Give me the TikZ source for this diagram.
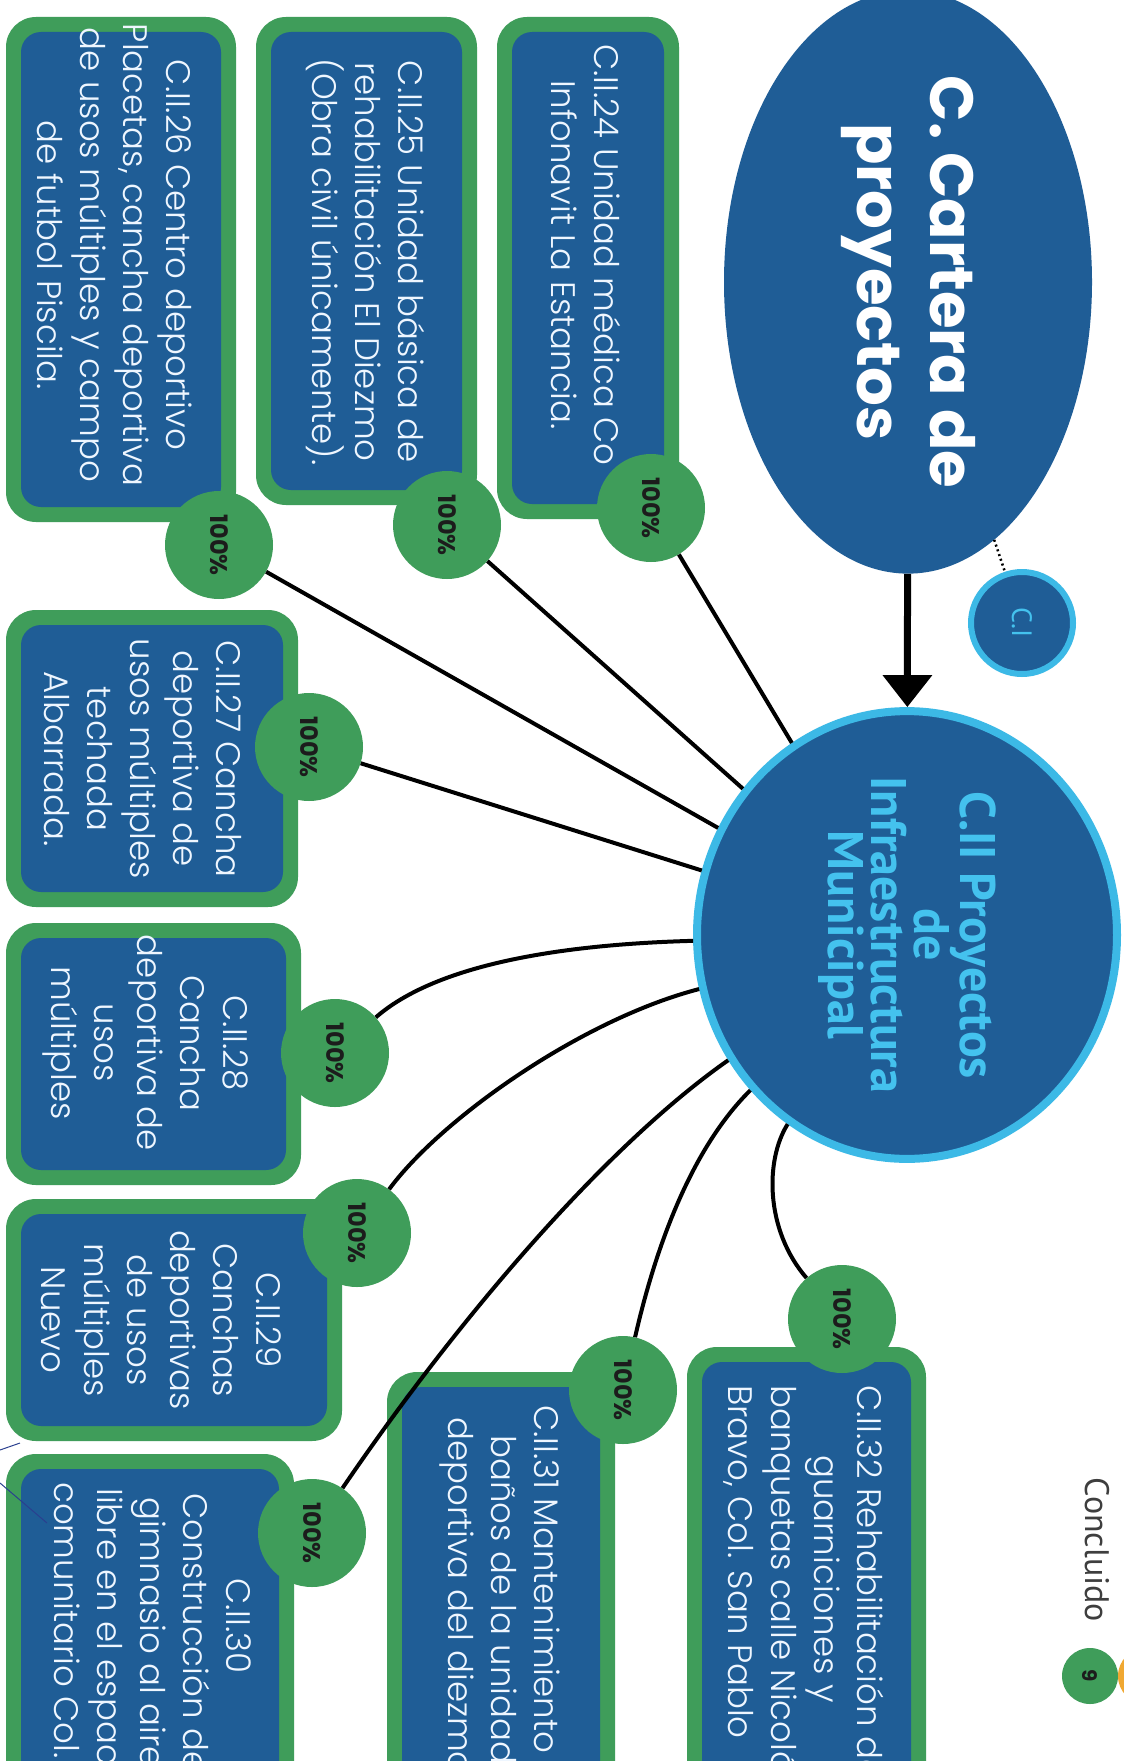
\documentclass[tikz,border=0pt]{standalone}
\usepackage{fontspec}
\setmainfont{Poppins}[UprightFont={* Light},BoldFont={* Bold}]
\newfontfamily\ptfont{PT Sans}
\usetikzlibrary{arrows.meta,shapes.geometric}
\definecolor{cblue}{HTML}{1F5D96}
\definecolor{cgreen}{HTML}{3F9D5A}
\definecolor{ccyan}{HTML}{3CB9E6}
\definecolor{ctitle}{HTML}{44C2EE}
\definecolor{ctext}{HTML}{EEF6FF}
\definecolor{cdark}{HTML}{1C1C1C}
\definecolor{corange}{HTML}{F0A832}
\definecolor{cnavy}{HTML}{2A3F8F}
\newcommand\projbox[4]{%
  \fill[outerbox] (#1,#2) rectangle (#3,#4);
  \fill[innerbox] ({#1+15},{#2+15}) rectangle ({#3-15},{#4-15});}
\begin{document}
\begin{tikzpicture}[x=1pt,y=-1pt,
  outerbox/.style={fill=cgreen,rounded corners=30pt},
  innerbox/.style={fill=cblue,rounded corners=20pt},
  boxtext/.style={rotate=-90,text=ctext,align=center,inner sep=0pt,font=\fontsize{34}{43}\selectfont},
  boxtextl/.style={boxtext,align=left,anchor=north west},
  badge/.style={circle,fill=cgreen,minimum size=108pt,inner sep=0pt,rotate=-90,text=cdark,font=\bfseries\fontsize{24}{26}\selectfont},
  link/.style={line width=4pt,black},
]
\useasboundingbox (0,0) rectangle (1124,1761);
\fill[white] (0,0) rectangle (1124,1761);
\clip (0,0) rectangle (1124,1761);

% project boxes
\projbox{497}{17}{679}{519}
\projbox{256}{17}{477}{505}
\projbox{6}{17}{236}{522}
\projbox{6}{610}{298}{907}
\projbox{6}{923}{301}{1185}
\projbox{6}{1199}{342}{1441}
\projbox{6}{1454}{294}{1820}
\projbox{387}{1372}{615}{1820}
\projbox{687}{1347}{926}{1820}

% box texts
\node[boxtext] (t24) at (586,255) {C.II.24 Unidad médica Co\\Infonavit La Estancia.};
\node[boxtext] (t25) at (365,262) {C.II.25 Unidad básica de\\rehabilitación El Diezmo\\(Obra civil únicamente).};
\node[boxtext] (t26) at (115,255) {C.II.26 Centro deportivo\\Placetas, cancha deportiva\\de usos múltiples y campo\\de futbol Piscila.};
\node[boxtext] (t27) at (143,759) {C.II.27 Cancha\\deportiva de\\usos múltiples\\techada\\Albarrada.};
\node[boxtext] (t28) at (146,1043) {C.II.28\\Cancha\\deportiva de\\usos\\múltiples};
\node[boxtext] (t29) at (161,1320) {C.II.29\\Canchas\\deportivas\\de usos\\múltiples\\Nuevo};
\node[boxtextl] (t30) at (252,1482) {\hspace*{96pt}C.II.30\\\hspace*{11pt}Construcción de\\\hspace*{15pt}gimnasio al aire\\\hspace*{6pt}libre en el espacio\\comunitario Col.};
\node[boxtextl] (t31) at (560,1405) {C.II.31 Mantenimiento\\\hspace*{30pt}baños de la unidad\\\hspace*{12pt}deportiva del diezmo};
\node[boxtextl] (t32) at (884,1385) {C.II.32 Rehabilitación de\\\hspace*{70pt}guarniciones y\\banquetas calle Nicolás\\Bravo, Col. San Pablo};

% thin stray line
\coordinate (s1) at (0,1450);
\coordinate (s2) at (20,1443);
\coordinate (s3) at (0,1483);
\coordinate (s4) at (47,1523);
\draw[cnavy,line width=1pt] (s1) -- (s2);
\draw[cnavy,line width=1pt] (s3) -- (s4);

% main nodes
\node[ellipse,fill=cblue,rotate=-90,minimum width=550pt,minimum height=368pt,inner sep=0pt,
  text=white,align=center,font=\bfseries\fontsize{61}{73}\selectfont] (cart) at (908,282) {C. Cartera de\\proyectos};
\node[ellipse,fill=cblue,draw=ccyan,line width=8pt,rotate=-90,minimum width=438pt,minimum height=420pt,inner sep=0pt,
  text=ctitle,align=center,font=\ptfont\bfseries\fontsize{50}{43}\selectfont] (c2) at (907,935) {C.II Proyectos\\de\\Infraestructura\\Municipal};
\node[circle,fill=cblue,draw=ccyan,line width=6pt,minimum size=102pt,inner sep=0pt,rotate=-90,
  text=ctitle,font=\ptfont\fontsize{28}{30}\selectfont] (ci) at (1022,623) {C.I};

\draw[line width=2.5pt,dash pattern=on 2pt off 3pt] (cart) -- (ci);
\draw[line width=7pt,-{Triangle[width=48pt,length=32pt]}] (cart) -- (c2);

% badges
\node[badge] (b24) at (651,508) {100\%};
\node[badge] (b25) at (447,525) {100\%};
\node[badge] (b26) at (219,545) {100\%};
\node[badge] (b27) at (309,747) {100\%};
\node[badge] (b28) at (335,1053) {100\%};
\node[badge] (b29) at (357,1233) {100\%};
\node[badge] (b30) at (312,1533) {100\%};
\node[badge] (b31) at (623,1390) {100\%};
\node[badge] (b32) at (842,1319) {100\%};

% connectors
\draw[link] (b24) -- (c2);
\draw[link] (b25) -- (c2);
\draw[link] (b26) -- (c2);
\draw[link] (b27) -- (c2);
\draw[link] (b28) .. controls (430,970) and (540,945) .. (c2);
\draw[link] (b29) .. controls (440,1120) and (580,1020) .. (c2);
\draw[link] (b30) .. controls (450,1330) and (600,1150) .. (c2);
\draw[link] (b31) .. controls (655,1250) and (690,1150) .. (c2);
\draw[link] (b32) .. controls (765,1230) and (765,1160) .. (c2);

% page marker
\node[rotate=-90,text=cdark!85,inner sep=0pt,font=\ptfont\fontsize{34}{36}\selectfont] (concl) at (1097,1550) {Concluido};
\node[circle,fill=cgreen,minimum size=56pt,inner sep=0pt,rotate=-90,text=cdark,font=\bfseries\fontsize{20}{22}\selectfont] (pg) at (1090,1676) {9};
\node[circle,fill=corange,minimum size=56pt,inner sep=0pt] (orng) at (1146,1676) {};
\end{tikzpicture}
\end{document}
